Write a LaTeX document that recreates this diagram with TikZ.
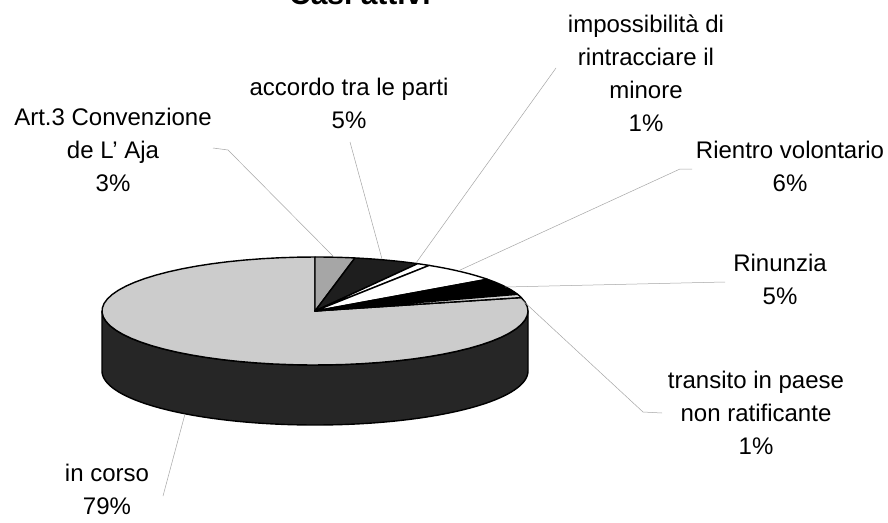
\documentclass[tikz,border=0pt]{standalone}
\usepackage{fontspec}
\setmainfont{Liberation Sans}
\newcommand\mkslice[3]{\filldraw[slice, fill=#3] (315,311) -- plot[domain=#1:#2, samples=60] ({315+213*sin(\x)},{311-54*cos(\x)}) -- cycle;}
\begin{document}
\begin{tikzpicture}[x=1pt,y=-1pt,
  lbl/.style={align=center, font=\fontsize{24}{33}\selectfont, inner sep=0pt},
  leader/.style={draw=gray!70, line width=0.5pt},
  slice/.style={draw=black, line width=1.4pt, line join=round},
]
\definecolor{corsotop}{HTML}{CCCCCC}
\definecolor{corsoside}{HTML}{262626}
\definecolor{artgray}{HTML}{A6A6A6}
\definecolor{accdark}{HTML}{1E1E1E}
\definecolor{transgray}{HTML}{D6D6D6}
\useasboundingbox (0,0) rectangle (888,522);
\fill[white] (0,0) rectangle (888,522);
\begin{scope}
\clip (0,0) rectangle (888,522);
\node[font=\bfseries\fontsize{30}{36}\selectfont, anchor=base, inner sep=0pt] (title) at (360,5) {Casi attivi};
\end{scope}

% side of the pie
\filldraw[slice, fill=corsoside] plot[domain=90:270,samples=80] ({315+213*sin(\x)},{311-54*cos(\x)}) -- plot[domain=270:90,samples=80] ({315+213*sin(\x)},{371-54*cos(\x)}) -- cycle;

% top slices
\mkslice{75.6}{360}{corsotop}
\mkslice{0}{10.8}{artgray}
\mkslice{10.8}{28.8}{accdark}
\mkslice{28.8}{32.4}{white}
\mkslice{32.4}{54}{white}
\mkslice{54}{72}{black}
\mkslice{72}{75.6}{transgray}

% labels
\node[lbl] (art) at (113,150) {Art.3 Convenzione\\de L' Aja\\3\%};
\node[lbl] (acc) at (349,103) {accordo tra le parti\\5\%};
\node[lbl] (imp) at (646,73) {impossibilità di\\rintracciare il\\minore\\1\%};
\node[lbl] (rie) at (790,166) {Rientro volontario\\6\%};
\node[lbl] (rin) at (780,279) {Rinunzia\\5\%};
\node[lbl] (tra) at (756,413) {transito in paese\\non ratificante\\1\%};
\node[lbl] (cor) at (107,489) {in corso\\79\%};

% leader points
\coordinate (pA) at (333,256);
\coordinate (pB) at (382,259);
\coordinate (pC) at (416,263);
\coordinate (pD) at (458,271);
\coordinate (pE) at (505,287);
\coordinate (pF) at (521,299);
\coordinate (pG) at (185,414);
\coordinate (lA) at (213,148);
\coordinate (kA) at (228,150);
\coordinate (lB) at (350,142);
\coordinate (lC) at (556,68);
\coordinate (lD) at (692,169);
\coordinate (kD) at (680,169);
\coordinate (lE) at (725,282);
\coordinate (lF) at (662,413);
\coordinate (kF) at (643,412);
\coordinate (lG) at (163,496);

\draw[leader] (lA) -- (kA) -- (pA);
\draw[leader] (lB) -- (pB);
\draw[leader] (lC) -- (pC);
\draw[leader] (lD) -- (kD) -- (pD);
\draw[leader] (lE) -- (pE);
\draw[leader] (lF) -- (kF) -- (pF);
\draw[leader] (lG) -- (pG);
\end{tikzpicture}
\end{document}
